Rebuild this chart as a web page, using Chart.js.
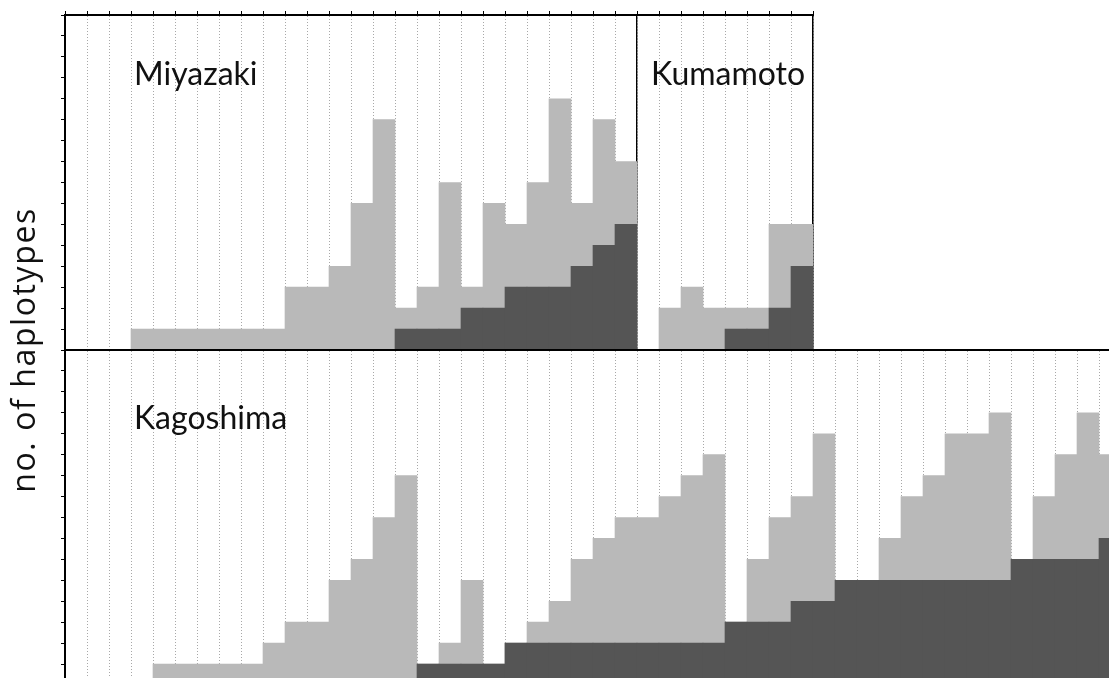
<!DOCTYPE html>
<html>
<head>
<meta charset="utf-8">
<script src="https://cdn.jsdelivr.net/npm/chart.js@4.4.1/dist/chart.umd.min.js"></script>
<style>
  html, body { margin: 0; padding: 0; background: #fff; overflow: hidden; }
  body { width: 1109px; height: 678px; position: relative; }
  canvas { position: absolute; top: 0; }
</style>
</head>
<body>
<canvas id="miyazaki" width="645" height="360" style="left:0px"></canvas>
<canvas id="kumamoto" width="190" height="360" style="left:630px"></canvas>
<canvas id="kagoshima" width="1130" height="700" style="left:0px"></canvas>
<script>
// no. of haplotypes per column: total (light grey) and the dark subset
const miyazakiTotal = [0, 0, 0, 1, 1, 1, 1, 1, 1, 1, 3, 3, 4, 7, 11, 2, 3, 8, 3, 7, 6, 8, 12, 7, 11, 9];
const miyazakiDark  = [0, 0, 0, 0, 0, 0, 0, 0, 0, 0, 0, 0, 0, 0, 0, 1, 1, 1, 2, 2, 3, 3, 3, 4, 5, 6];

const kumamotoTotal = [0, 2, 3, 2, 2, 2, 6, 6];
const kumamotoDark  = [0, 0, 0, 0, 1, 1, 2, 4];

const kagoshimaTotal = [0, 0, 0, 0, 1, 1, 1, 1, 1, 2, 3, 3, 5, 6, 8, 10, 1, 2, 5, 1, 2, 3, 4, 6,
                        7, 8, 8, 9, 10, 11, 3, 6, 8, 9, 12, 5, 5, 7, 9, 10, 12, 12, 13, 6, 9, 11, 13, 11];
const kagoshimaDark  = [0, 0, 0, 0, 0, 0, 0, 0, 0, 0, 0, 0, 0, 0, 0, 0, 1, 1, 1, 1, 2, 2, 2, 2,
                        2, 2, 2, 2, 2, 2, 3, 3, 3, 4, 4, 5, 5, 5, 5, 5, 5, 5, 5, 6, 6, 6, 6, 7];

const yTicks = { min: 0, max: 16, step: 1 };
const yTitle = 'no. of haplotypes';

const LIGHT = '#b9b9b9';
const DARK = '#555555';

// region name written inside each panel
const panelLabel = {
  id: 'panelLabel',
  afterDatasetsDraw(chart, args, opts) {
    if (!opts.text) return;
    const ctx = chart.ctx;
    const x = chart.scales.x;
    const colW = x.getPixelForValue(1) - x.getPixelForValue(0);
    ctx.save();
    ctx.font = '32px Lato';
    ctx.fillStyle = '#111';
    ctx.textBaseline = 'alphabetic';
    ctx.fillText(opts.text, x.getPixelForValue(opts.col) - colW / 2 + opts.dx, chart.chartArea.top + opts.dy);
    ctx.restore();
  }
};

// shared y title, centred on both panels
const sideTitle = {
  id: 'sideTitle',
  afterDraw(chart, args, opts) {
    if (!opts.text) return;
    const ctx = chart.ctx;
    ctx.save();
    ctx.translate(opts.x, opts.y);
    ctx.rotate(-Math.PI / 2);
    ctx.font = '32px "Open Sans"';
    ctx.letterSpacing = '1.6px';
    ctx.fillStyle = '#111';
    ctx.textAlign = 'center';
    ctx.textBaseline = 'alphabetic';
    ctx.fillText(opts.text, 0, 0);
    ctx.restore();
  }
};

function makePanel(id, total, dark, cfg) {
  const cols = total.map((_, i) => String(i + 1));
  const bar = { barPercentage: 1, categoryPercentage: 1, grouped: false, borderWidth: 0 };
  return new Chart(document.getElementById(id), {
    type: 'bar',
    data: {
      labels: cols,
      datasets: [
        Object.assign({ label: 'dark', data: dark, backgroundColor: DARK, order: 0 }, bar),
        Object.assign({ label: 'all', data: total, backgroundColor: LIGHT, order: 1 }, bar)
      ]
    },
    options: {
      responsive: false,
      animation: false,
      layout: { padding: cfg.padding },
      plugins: {
        legend: { display: false },
        tooltip: { enabled: false },
        panelLabel: cfg.label || {},
        sideTitle: cfg.title || {}
      },
      scales: {
        x: {
          position: 'top',
          offset: true,
          ticks: { display: false },
          grid: {
            offset: true,
            color: '#a8a8a8',
            lineWidth: 1,
            drawTicks: cfg.topTicks,
            tickLength: 4,
            tickColor: '#000',
            tickWidth: 1
          },
          border: { color: '#000', width: 2, dash: [1, 2] },
          afterFit: s => { s.height = 0; }
        },
        y: {
          display: cfg.leftAxis,
          min: yTicks.min,
          max: yTicks.max,
          ticks: { display: false, stepSize: yTicks.step },
          grid: { drawOnChartArea: false, drawTicks: true, tickLength: 4, tickColor: '#000', tickWidth: 1 },
          border: { color: '#000', width: 2 },
          afterFit: s => { s.width = 0; }
        },
        y2: {
          display: cfg.rightAxis,
          position: 'right',
          min: yTicks.min,
          max: yTicks.max,
          ticks: { display: false },
          grid: { drawOnChartArea: false, drawTicks: false },
          border: { color: '#000', width: 1.5 },
          afterFit: s => { s.width = 0; }
        }
      }
    },
    plugins: [panelLabel, sideTitle]
  });
}

makePanel('miyazaki', miyazakiTotal, miyazakiDark, {
  padding: { left: 65, right: 8, top: 15, bottom: 10 },
  leftAxis: true, rightAxis: true, topTicks: true,
  label: { text: 'Miyazaki', col: 3, dx: 3, dy: 70 }
});

makePanel('kumamoto', kumamotoTotal, kumamotoDark, {
  padding: { left: 7, right: 7, top: 15, bottom: 10 },
  leftAxis: false, rightAxis: true, topTicks: true,
  label: { text: 'Kumamoto', col: 0, dx: 14, dy: 70 }
});

makePanel('kagoshima', kagoshimaTotal, kagoshimaDark, {
  padding: { left: 65, right: 9, top: 350, bottom: 15 },
  leftAxis: true, rightAxis: false, topTicks: false,
  label: { text: 'Kagoshima', col: 3, dx: 3, dy: 79 },
  title: { text: yTitle, x: 35, y: 350 }
});
</script>
</body>
</html>
